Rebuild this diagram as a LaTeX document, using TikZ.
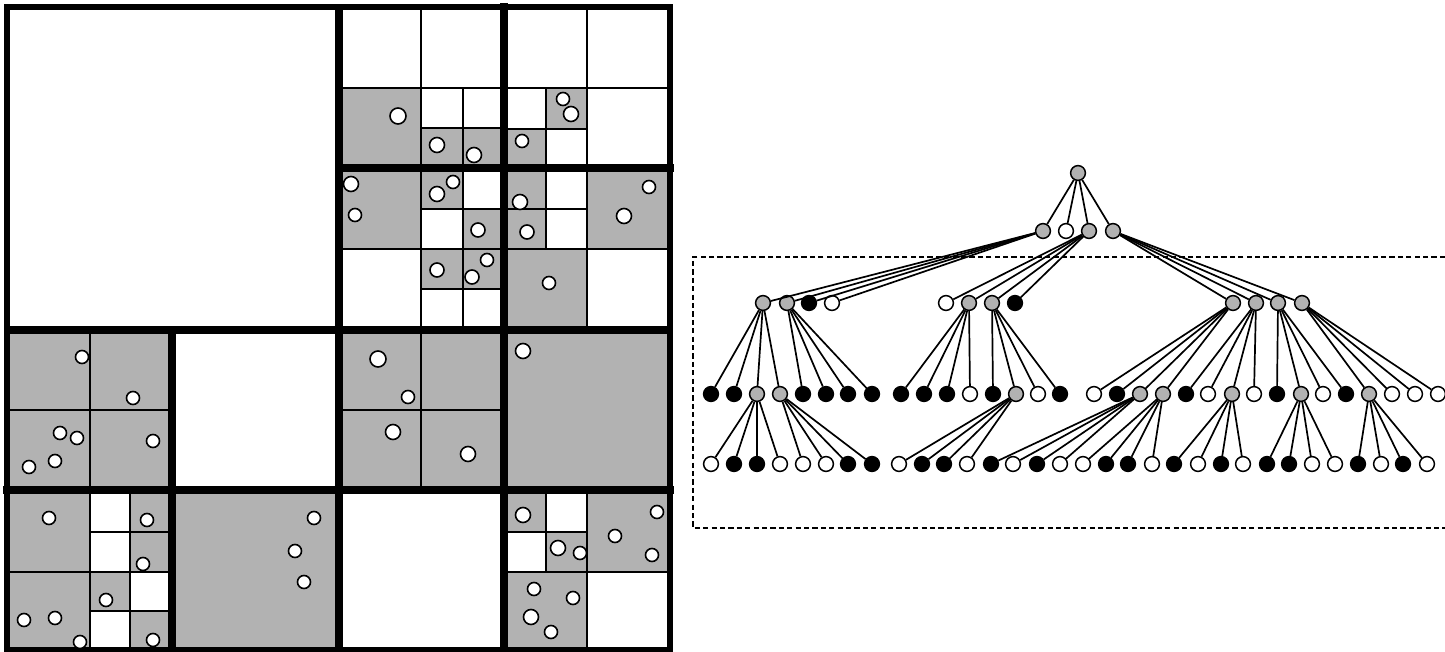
\documentclass[tikz,border=0pt]{standalone}
\definecolor{cellgray}{gray}{0.7}
\tikzset{
  cell/.style={fill=cellgray, draw=none},
  fine/.style={line width=0.9pt, line cap=rect},
  bold/.style={line width=4pt, line cap=rect},
  frame/.style={line width=2.6pt},
  pt/.style={draw, fill=white, line width=0.8pt},
  tn/.style={circle, draw, line width=0.75pt, minimum size=7.4pt, inner sep=0pt},
  tg/.style={tn, fill=cellgray},
  tb/.style={tn, fill=black},
  tw/.style={tn, fill=white},
  edge/.style={line width=0.85pt},
  window/.style={line width=0.8pt, dash pattern=on 2.6pt off 1.6pt}
}
\begin{document}
\begin{tikzpicture}[x=0.5pt,y=-0.5pt]
\useasboundingbox (0,0) rectangle (1445,652);

% ---------- quadtree: occupied cells ----------
\foreach \xa/\ya/\xb/\yb in {
  339/88/421/168, 421/128/463/168, 463/128/504/168,
  546/88/587/129, 504/129/546/168,
  339/168/421/249, 421/168/463/209, 463/209/504/249,
  421/249/463/289, 463/249/504/289,
  504/168/546/209, 504/209/546/249, 587/168/670/249, 504/249/587/330,
  7/330/172/490, 7/490/90/572, 130/490/172/532, 130/532/172/572,
  7/572/90/650, 90/572/130/611, 130/611/172/650, 172/490/339/650,
  339/330/504/490, 504/330/670/490,
  504/490/546/532, 546/532/587/572, 587/490/670/572, 504/572/587/650}
  \fill[cell] (\xa,\ya) rectangle (\xb,\yb);

% ---------- quadtree: fine subdivisions ----------
\foreach \xa/\ya/\xb/\yb in {
  421/7/421/330, 587/7/587/330, 339/88/670/88, 339/249/670/249,
  463/88/463/330, 421/128/504/128, 421/209/504/209, 421/289/504/289,
  546/88/546/249, 504/129/587/129, 504/209/587/209,
  90/330/90/650, 7/410/172/410, 7/572/172/572,
  130/490/130/650, 90/532/172/532, 90/611/172/611,
  421/330/421/490, 339/410/504/410,
  587/490/587/650, 504/572/670/572, 546/490/546/572, 504/532/587/532}
  \draw[fine] (\xa,\ya) -- (\xb,\yb);

% ---------- quadtree: coarse subdivisions ----------
\draw[bold] (504,7) -- (504,650) (339,168) -- (670,168)
            (172,330) -- (172,650) (7,490) -- (670,490);
\draw[line width=4.4pt] (339,7) -- (339,650) (7,330) -- (670,330);
\draw[frame] (7,7) rectangle (670,650);

% ---------- quadtree: points ----------
\foreach \x/\y/\r in {
  398/116/8, 437/145/7.5, 474/155/7.5, 563/99/6.5, 571/114/7.5, 522/141/6.5,
  351/184/7.5, 355/215/6.5, 437/194/7.5, 453/182/6.5, 478/230/7,
  437/270/7, 487/260/6.5, 472/277/7,
  520/202/7.5, 527/232/7, 649/187/6.5, 624/216/7.5, 549/283/6.5,
  82/357/6.5, 133/398/6.5, 60/433/6.5, 77/438/6.5, 29/467/6.5, 55/461/6.5, 153/441/6.5,
  49/518/6.5, 147/520/6.5, 143/564/6.5, 24/620/6.5, 55/618/6.5, 80/642/6.5,
  106/600/6.5, 153/640/6.5, 314/518/6.5, 295/551/6.5, 304/582/6.5,
  378/359/8, 408/397/6.5, 393/432/7.5, 468/454/7.5, 523/351/7.5,
  523/515/7.5, 558/548/7.5, 580/553/6.5, 657/512/6.5, 615/536/6.5, 652/555/6.5,
  534/589/6.5, 573/598/6.5, 531/617/7.5, 551/632/6.5}
  \draw[pt] (\x,\y) circle[radius=\r];

% ---------- tree: window around the lower levels ----------
\draw[window] (1445,257) -- (693,257) -- (693,528) -- (1445,528);

% ---------- tree: nodes ----------
\node[tg] (r) at (1078,173) {};
\foreach \n/\x/\s in {1/1043/tg, 2/1066/tw, 3/1089/tg, 4/1113/tg}
  \node[\s] (a\n) at (\x,231) {};
\foreach \n/\x/\s in {1/763/tg, 2/787/tg, 3/809/tb, 4/832/tw,
  5/946/tw, 6/969/tg, 7/992/tg, 8/1015/tb,
  9/1233/tg, 10/1256/tg, 11/1278/tg, 12/1302/tg}
  \node[\s] (b\n) at (\x,303) {};
\foreach \n/\x/\s in {1/711/tb, 2/734/tb, 3/757/tg, 4/780/tg,
  5/803/tb, 6/826/tb, 7/848/tb, 8/872/tb,
  9/901/tb, 10/924/tb, 11/947/tb, 12/970/tw,
  13/993/tb, 14/1016/tg, 15/1038/tw, 16/1060/tb,
  17/1094/tw, 18/1117/tb, 19/1140/tg, 20/1163/tg,
  21/1186/tb, 22/1208/tw, 23/1232/tg, 24/1254/tw,
  25/1277/tb, 26/1301/tg, 27/1323/tw, 28/1346/tb,
  29/1369/tg, 30/1392/tw, 31/1415/tw, 32/1438/tw}
  \node[\s] (c\n) at (\x,394) {};
\foreach \n/\x/\s in {1/711/tw, 2/734/tb, 3/757/tb, 4/780/tw,
  5/803/tw, 6/826/tw, 7/848/tb, 8/872/tb,
  9/899/tw, 10/922/tb, 11/944/tb, 12/967/tw,
  13/991/tb, 14/1013/tw, 15/1037/tb, 16/1060/tw,
  17/1083/tw, 18/1106/tb, 19/1128/tb, 20/1152/tw,
  21/1174/tb, 22/1198/tw, 23/1221/tb, 24/1243/tw,
  25/1267/tb, 26/1289/tb, 27/1312/tw, 28/1335/tw,
  29/1358/tb, 30/1381/tw, 31/1403/tb, 32/1427/tw}
  \node[\s] (d\n) at (\x,464) {};

% ---------- tree: edges ----------
\foreach \c in {a1,a2,a3,a4} \draw[edge] (r) -- (\c);
\foreach \p/\f in {a1/1, a3/5, a4/9}
  \foreach \k in {0,...,3} {
    \pgfmathtruncatemacro\m{\f+\k}
    \draw[edge] (\p) -- (b\m);
  }
\foreach \p/\f in {b1/1, b2/5, b6/9, b7/13, b9/17, b10/21, b11/25, b12/29}
  \foreach \k in {0,...,3} {
    \pgfmathtruncatemacro\m{\f+\k}
    \draw[edge] (\p) -- (c\m);
  }
\foreach \p/\f in {c3/1, c4/5, c14/9, c19/13, c20/17, c23/21, c26/25, c29/29}
  \foreach \k in {0,...,3} {
    \pgfmathtruncatemacro\m{\f+\k}
    \draw[edge] (\p) -- (d\m);
  }
\end{tikzpicture}
\end{document}
